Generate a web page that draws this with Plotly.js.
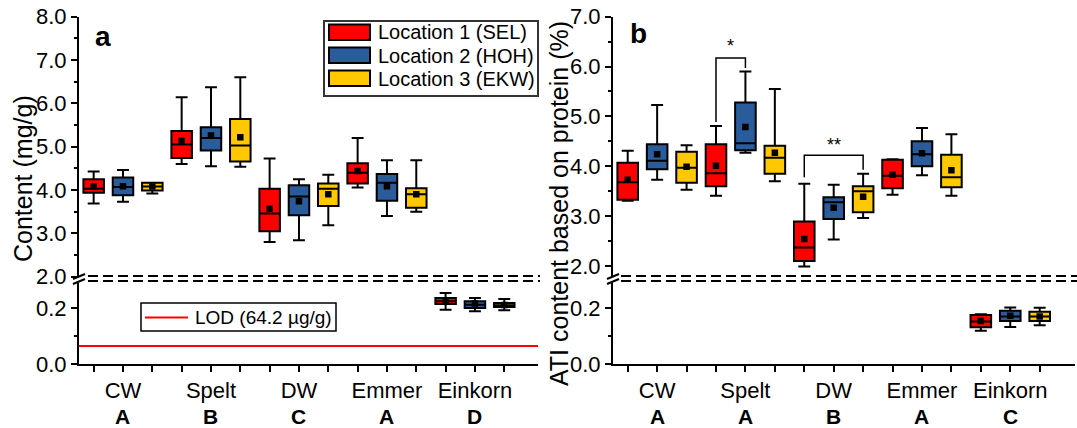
<!DOCTYPE html>
<html><head><meta charset="utf-8">
<script src="https://cdn.plot.ly/plotly-3.0.1.min.js"></script>
<style>html,body{margin:0;padding:0;background:#fff}#chart{width:1077px;height:428px}</style>
</head><body><div id="chart"></div>
<script>
// ---------- data ----------
const categories = ['CW', 'Spelt', 'DW', 'Emmer', 'Einkorn'];
const lettersA = ['A', 'B', 'C', 'A', 'D'];
const lettersB = ['A', 'A', 'B', 'A', 'C'];
const locations = ['Location 1 (SEL)', 'Location 2 (HOH)', 'Location 3 (EKW)'];

// Panel a: ATI content (mg/g) — CW, Spelt, DW, Emmer, Einkorn
const aLow_SEL  = [3.69, 4.60, 2.80, 4.06, 0.194];
const aQ1_SEL   = [3.94, 4.74, 3.05, 4.15, 0.214];
const aMed_SEL  = [4.03, 5.05, 3.46, 4.40, 0.224];
const aQ3_SEL   = [4.25, 5.36, 4.03, 4.62, 0.236];
const aHigh_SEL = [4.43, 6.14, 4.73, 5.20, 0.254];
const aMean_SEL = [4.08, 5.13, 3.57, 4.44, 0.226];

const aLow_HOH  = [3.73, 4.55, 2.84, 3.40, 0.188];
const aQ1_HOH   = [3.88, 4.91, 3.42, 3.75, 0.200];
const aMed_HOH  = [4.07, 5.20, 3.85, 4.17, 0.212];
const aQ3_HOH   = [4.29, 5.45, 4.11, 4.37, 0.224];
const aHigh_HOH = [4.46, 6.37, 4.25, 4.69, 0.236];
const aMean_HOH = [4.09, 5.26, 3.74, 4.09, 0.216];

const aLow_EKW  = [3.92, 4.54, 3.19, 3.50, 0.192];
const aQ1_EKW   = [3.99, 4.66, 3.63, 3.59, 0.204];
const aMed_EKW  = [4.08, 5.03, 4.03, 3.90, 0.210];
const aQ3_EKW   = [4.17, 5.64, 4.15, 4.04, 0.218];
const aHigh_EKW = [4.17, 6.60, 4.35, 4.69, 0.232];
const aMean_EKW = [4.08, 5.22, 3.90, 3.90, 0.211];

// Panel b: ATI content based on protein (%)
const bLow_SEL  = [3.31, 3.41, 1.99, 3.43, 0.119];
const bQ1_SEL   = [3.33, 3.60, 2.10, 3.56, 0.131];
const bMed_SEL  = [3.68, 3.86, 2.37, 3.81, 0.152];
const bQ3_SEL   = [4.07, 4.44, 2.89, 4.13, 0.175];
const bHigh_SEL = [4.31, 4.81, 3.65, 4.14, 0.178];
const bMean_SEL = [3.73, 4.01, 2.54, 3.83, 0.154];

const bLow_HOH  = [3.73, 4.27, 2.53, 3.82, 0.132];
const bQ1_HOH   = [3.94, 4.32, 2.94, 4.00, 0.154];
const bMed_HOH  = [4.11, 4.46, 3.28, 4.24, 0.170];
const bQ3_HOH   = [4.44, 5.28, 3.38, 4.50, 0.190];
const bHigh_HOH = [5.23, 5.90, 3.63, 4.77, 0.202];
const bMean_HOH = [4.24, 4.79, 3.17, 4.26, 0.172];

const bLow_EKW  = [3.53, 3.70, 2.96, 3.41, 0.138];
const bQ1_EKW   = [3.67, 3.85, 3.08, 3.58, 0.154];
const bMed_EKW  = [3.97, 4.17, 3.50, 3.78, 0.170];
const bQ3_EKW   = [4.29, 4.41, 3.60, 4.23, 0.187];
const bHigh_EKW = [4.42, 5.55, 3.85, 4.64, 0.201];
const bMean_EKW = [3.99, 4.27, 3.39, 3.92, 0.170];

const lodValue = 0.0642; // mg/g (64.2 µg/g)

// significance brackets (panel b)
const bracket1X = [4, 4, 5, 5];
const bracket1Y = [4.89, 6.17, 6.17, 5.97];
const bracket2X = [7, 7, 9, 9];
const bracket2Y = [3.78, 4.22, 4.22, 3.93];
const starLabels = ['*', '**'];
const starX = [4.5, 8];
const starY = [6.42, 4.42];

// ---------- styling ----------
const colors = ['#FF0000', '#2A5B9B', '#FFC800'];
const W = 1077, H = 428;
const px = x => x / W, py = y => 1 - y / H;
const FONT = 'Liberation Sans, Arial, sans-serif';

const panelA = [
  [aLow_SEL, aQ1_SEL, aMed_SEL, aQ3_SEL, aHigh_SEL, aMean_SEL],
  [aLow_HOH, aQ1_HOH, aMed_HOH, aQ3_HOH, aHigh_HOH, aMean_HOH],
  [aLow_EKW, aQ1_EKW, aMed_EKW, aQ3_EKW, aHigh_EKW, aMean_EKW]
];
const panelB = [
  [bLow_SEL, bQ1_SEL, bMed_SEL, bQ3_SEL, bHigh_SEL, bMean_SEL],
  [bLow_HOH, bQ1_HOH, bMed_HOH, bQ3_HOH, bHigh_HOH, bMean_HOH],
  [bLow_EKW, bQ1_EKW, bMed_EKW, bQ3_EKW, bHigh_EKW, bMean_EKW]
];

const traces = [];
function addPanel(panel, upper, lower) {
  panel.forEach((s, l) => {
    const [lo, q1, med, q3, hi, mean] = s;
    const parts = [
      {idx: [0, 1, 2, 3], ax: upper},
      {idx: [4], ax: lower}
    ];
    parts.forEach(p => {
      const xs = p.idx.map(i => 3 * i + l + 1);
      traces.push({
        type: 'box', x: xs,
        lowerfence: p.idx.map(i => lo[i]), q1: p.idx.map(i => q1[i]),
        median: p.idx.map(i => med[i]), q3: p.idx.map(i => q3[i]),
        upperfence: p.idx.map(i => hi[i]),
        xaxis: p.ax[0], yaxis: p.ax[1],
        width: 0.7, whiskerwidth: 0.58, boxpoints: false,
        fillcolor: colors[l], line: {color: 'black', width: 2},
        name: locations[l], showlegend: false, hoverinfo: 'skip'
      });
      traces.push({
        type: 'scatter', mode: 'markers', x: xs, y: p.idx.map(i => mean[i]),
        xaxis: p.ax[0], yaxis: p.ax[1],
        marker: {symbol: 'square', size: 6.5, color: 'black'},
        showlegend: false, hoverinfo: 'skip'
      });
    });
  });
}
addPanel(panelA, ['x', 'y'], ['x2', 'y2']);
addPanel(panelB, ['x3', 'y3'], ['x4', 'y4']);

[[bracket1X, bracket1Y], [bracket2X, bracket2Y]].forEach(([bx, by]) => {
  traces.push({type: 'scatter', mode: 'lines', x: bx, y: by, xaxis: 'x3', yaxis: 'y3',
    line: {color: 'black', width: 1.5}, showlegend: false, hoverinfo: 'skip'});
});

const tickFont = {family: FONT, size: 22, color: 'black'};
const xTickFont = {family: FONT, size: 22, color: 'black'};
const baseAx = {showline: true, linecolor: 'black', linewidth: 2, ticks: 'outside',
  tickcolor: 'black', tickwidth: 2, ticklen: 6, showgrid: false, zeroline: false,
  tickfont: tickFont, fixedrange: true};
const minorY = (d) => ({dtick: d, ticks: 'outside', ticklen: 3, tickwidth: 2, tickcolor: 'black', showgrid: false});

const xTickVals = [];
const xTickText = [];
for (let i = 1; i <= 15; i++) {
  xTickVals.push(i);
  xTickText.push((i - 2) % 3 === 0 ? categories[(i - 2) / 3] : '');
}

const domA = [px(79), px(538)], domB = [px(613), px(1075)];
const domUp = [py(276.7), py(16.7)], domLow = [py(364), py(282.8)];

const layout = {
  width: W, height: H, margin: {l: 0, r: 0, t: 0, b: 0},
  paper_bgcolor: 'white', plot_bgcolor: 'white', showlegend: false,
  font: {family: FONT, color: 'black'},
  boxmode: 'overlay',
  xaxis: Object.assign({}, baseAx, {domain: domA, range: [0.5, 16.15], visible: false, anchor: 'y'}),
  yaxis: Object.assign({}, baseAx, {domain: domUp, range: [2, 8], tick0: 2, dtick: 1, tickformat: '.1f', anchor: 'x', minor: minorY(0.5)}),
  xaxis2: Object.assign({}, baseAx, {domain: domA, range: [0.5, 16.15], anchor: 'y2', tickmode: 'array', tickvals: xTickVals, ticktext: xTickText, tickfont: xTickFont}),
  yaxis2: Object.assign({}, baseAx, {domain: domLow, range: [0, 0.29], tick0: 0, dtick: 0.2, tickformat: '.1f', anchor: 'x2', minor: minorY(0.1)}),
  xaxis3: Object.assign({}, baseAx, {domain: domB, range: [0.5, 16.2], visible: false, anchor: 'y3'}),
  yaxis3: Object.assign({}, baseAx, {domain: domUp, range: [1.785, 7], tick0: 0, dtick: 1, tickformat: '.1f', anchor: 'x3', minor: minorY(0.5)}),
  xaxis4: Object.assign({}, baseAx, {domain: domB, range: [0.5, 16.2], anchor: 'y4', tickmode: 'array', tickvals: xTickVals, ticktext: xTickText, tickfont: xTickFont}),
  yaxis4: Object.assign({}, baseAx, {domain: domLow, range: [0, 0.29], tick0: 0, dtick: 0.2, tickformat: '.1f', anchor: 'x4', minor: minorY(0.1)}),
  shapes: [], annotations: []
};

// LOD line
layout.shapes.push({type: 'line', xref: 'x2 domain', x0: 0, x1: 1, yref: 'y2', y0: lodValue, y1: lodValue,
  line: {color: '#FF0000', width: 2}});

// axis breaks: dashed lines + slashes
[[88, 540, 79], [621, 1077, 613]].forEach(([x0, x1, ax]) => {
  [276, 281].forEach(y => layout.shapes.push({type: 'line', xref: 'paper', yref: 'paper',
    x0: px(x0), x1: px(x1), y0: py(y), y1: py(y), line: {color: 'black', width: 2, dash: '10px,5px'}}));
  [[279, 274], [284, 279]].forEach(([ya, yb]) => layout.shapes.push({type: 'line', xref: 'paper', yref: 'paper',
    x0: px(ax - 6), x1: px(ax + 6), y0: py(ya), y1: py(yb), line: {color: 'black', width: 2}}));
});

// legend (panel a)
layout.shapes.push({type: 'rect', xref: 'paper', yref: 'paper', x0: px(324), x1: px(538), y0: py(96), y1: py(21),
  line: {color: '#333', width: 2}, fillcolor: 'white'});
const rowTop = [24.5, 47.5, 70.5];
locations.forEach((name, l) => {
  layout.shapes.push({type: 'rect', xref: 'paper', yref: 'paper', x0: px(329), x1: px(370),
    y0: py(rowTop[l] + 15.5), y1: py(rowTop[l]), fillcolor: colors[l], line: {color: 'black', width: 2}});
  layout.annotations.push({xref: 'paper', yref: 'paper', x: px(376), y: py(rowTop[l] + 8), xanchor: 'left', yanchor: 'middle',
    text: name, showarrow: false, font: {family: FONT, size: 20, color: 'black'}});
});

// LOD legend
layout.shapes.push({type: 'rect', xref: 'paper', yref: 'paper', x0: px(141), x1: px(336), y0: py(331), y1: py(303),
  line: {color: 'black', width: 1.5}, fillcolor: 'white'});
layout.shapes.push({type: 'line', xref: 'paper', yref: 'paper', x0: px(145), x1: px(188), y0: py(317.5), y1: py(317.5),
  line: {color: '#FF0000', width: 2}});
layout.annotations.push({xref: 'paper', yref: 'paper', x: px(193), y: py(317), xanchor: 'left', yanchor: 'middle',
  text: 'LOD (64.2 µg/g)', showarrow: false, font: {family: FONT, size: 19, color: 'black'}});

// group letters
[[lettersA, 'x2'], [lettersB, 'x4']].forEach(([letters, xr]) => {
  letters.forEach((t, i) => layout.annotations.push({xref: xr, yref: 'paper', x: 3 * i + 2, y: py(416.5),
    xanchor: 'center', yanchor: 'middle', text: '<b>' + t + '</b>', showarrow: false,
    font: {family: FONT, size: 21, color: 'black'}}));
});

// stars
starLabels.forEach((t, i) => layout.annotations.push({xref: 'x3', yref: 'y3', x: starX[i], y: starY[i],
  xanchor: 'center', yanchor: 'middle', text: t, showarrow: false, font: {family: FONT, size: 18, color: 'black'}}));

// panel letters
layout.annotations.push({xref: 'paper', yref: 'paper', x: px(103), y: py(36), xanchor: 'center', yanchor: 'middle',
  text: '<b>a</b>', showarrow: false, font: {family: FONT, size: 28, color: 'black'}});
layout.annotations.push({xref: 'paper', yref: 'paper', x: px(638), y: py(34), xanchor: 'center', yanchor: 'middle',
  text: '<b>b</b>', showarrow: false, font: {family: FONT, size: 28, color: 'black'}});

// y titles
layout.annotations.push({xref: 'paper', yref: 'paper', x: px(23), y: py(179), xanchor: 'center', yanchor: 'middle',
  textangle: -90, text: 'Content (mg/g)', showarrow: false, font: {family: FONT, size: 25, color: 'black'}});
layout.annotations.push({xref: 'paper', yref: 'paper', x: px(559), y: py(204), xanchor: 'center', yanchor: 'middle',
  textangle: -90, text: 'ATI content based on protein (%)', showarrow: false, font: {family: FONT, size: 25, color: 'black'}});

Plotly.newPlot('chart', traces, layout, {staticPlot: true, displayModeBar: false});
</script></body></html>
